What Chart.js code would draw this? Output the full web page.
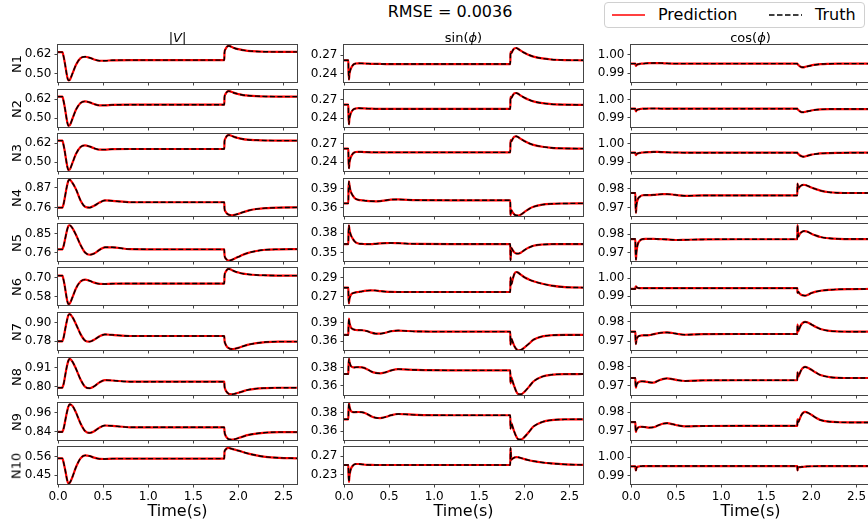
<!DOCTYPE html>
<html>
<head>
<meta charset="utf-8">
<script src="https://cdn.jsdelivr.net/npm/chart.js@4.4.0/dist/chart.umd.min.js"></script>
<style>
  body { margin: 0; width: 868px; height: 520px; overflow: hidden; background: #fff; position: relative; font-family: "DejaVu Sans", sans-serif; color: #000; }
  canvas { position: absolute; }
  .txt { position: absolute; white-space: nowrap; line-height: 1; transform: translate(-50%, -50%); }
  .rowlab { position: absolute; white-space: nowrap; line-height: 1; font-size: 13px; transform: translate(-50%, -50%) rotate(-90deg); }
  #legend { position: absolute; left: 604px; top: 2px; width: 261px; height: 26px; border: 1px solid #d0d0d0; border-radius: 4px; background: #fff; box-sizing: border-box; }
</style>
</head>
<body>
<div class="txt" style="left:450px; top:12px; font-size:16px;">RMSE = 0.0036</div>
<div id="legend">
  <svg width="261" height="26" style="position:absolute; left:0; top:0;">
    <line x1="7" y1="12" x2="40" y2="12" stroke="#ff0000" stroke-width="1.5"></line>
    <line x1="164" y1="12" x2="197" y2="12" stroke="#000" stroke-width="1.5" stroke-dasharray="5.5,2.5"></line>
  </svg>
  <div style="position:absolute; left:53px; top:4px; font-size:16px; line-height:16px;">Prediction</div>
  <div style="position:absolute; left:210px; top:4px; font-size:16px; line-height:16px;">Truth</div>
</div>

<script>
// shared time axis (s)
const time = [0, 0.048, 0.05, 0.055, 0.06, 0.07, 0.08, 0.1, 0.115, 0.13, 0.16, 0.2, 0.25, 0.3, 0.35, 0.4, 0.46, 0.52, 0.6, 0.8, 1.2, 1.6, 1.844, 1.846, 1.855, 1.87, 1.89, 1.91, 1.93, 1.96, 2.0, 2.05, 2.1, 2.2, 2.3, 2.45, 2.65];
const xTicks = [0, 0.5, 1.0, 1.5, 2.0, 2.5];
const nodes = ['N1', 'N2', 'N3', 'N4', 'N5', 'N6', 'N7', 'N8', 'N9', 'N10'];
const columns = ['|V|', 'sin(ϕ)', 'cos(ϕ)'];

// |V|
const v1 = [.634,.634,.632,.624,.612,.585,.553,.486,.458,.461,.500,.556,.596,.605,.599,.588,.580,.580,.583,.584,.584,.584,.584,.630,.650,.665,.672,.670,.665,.658,.652,.646,.642,.638,.636,.635,.635];
const v2 = [.637,.637,.635,.627,.614,.586,.553,.483,.453,.456,.497,.555,.597,.607,.601,.590,.582,.582,.585,.586,.586,.586,.586,.632,.651,.665,.672,.670,.666,.659,.653,.647,.644,.640,.638,.637,.637];
const v3 = [.637,.637,.635,.627,.614,.586,.552,.482,.452,.455,.496,.554,.597,.607,.600,.589,.580,.580,.583,.584,.584,.584,.584,.631,.650,.665,.672,.671,.666,.659,.653,.647,.643,.640,.638,.637,.637];
const v4 = [.760,.760,.762,.768,.776,.800,.828,.882,.910,.916,.898,.862,.800,.765,.760,.770,.788,.800,.798,.790,.790,.790,.790,.755,.740,.728,.721,.718,.717,.719,.725,.734,.742,.752,.757,.760,.761];
const v5 = [.776,.776,.778,.783,.789,.807,.828,.868,.888,.892,.878,.845,.797,.761,.750,.756,.774,.786,.786,.777,.776,.776,.776,.750,.735,.727,.722,.723,.726,.732,.740,.750,.758,.768,.774,.776,.777];
const v6 = [.715,.715,.713,.705,.692,.664,.630,.560,.532,.535,.575,.634,.677,.689,.682,.670,.662,.661,.663,.664,.664,.664,.664,.712,.735,.750,.758,.756,.750,.742,.735,.728,.724,.719,.717,.715,.715];
const v7 = [.780,.780,.783,.790,.799,.826,.859,.916,.948,.955,.935,.890,.826,.785,.778,.790,.812,.824,.821,.814,.814,.814,.814,.788,.765,.748,.737,.731,.730,.732,.738,.748,.757,.768,.775,.778,.778];
const v8 = [.794,.794,.797,.803,.811,.835,.866,.921,.950,.961,.945,.903,.842,.800,.791,.802,.825,.838,.836,.829,.829,.829,.829,.805,.785,.770,.760,.757,.756,.759,.765,.773,.781,.789,.792,.794,.794];
const v9 = [.840,.840,.843,.849,.857,.880,.910,.965,.998,1.012,1.002,.960,.893,.846,.834,.844,.867,.880,.878,.869,.869,.869,.869,.845,.822,.806,.796,.793,.792,.795,.802,.811,.820,.830,.836,.839,.839];
const v10 = [.552,.552,.550,.543,.532,.508,.482,.425,.402,.405,.440,.500,.552,.570,.566,.556,.549,.548,.550,.550,.550,.550,.550,.590,.603,.611,.614,.612,.609,.604,.598,.590,.582,.570,.561,.555,.552];

// sin(phi)
const s1 = [.262,.262,.246,.231,.2395,.246,.250,.2545,.2562,.2568,.2572,.2570,.2567,.2564,.2562,.2561,.2560,.2560,.2560,.2560,.2560,.2560,.2560,.2755,.2735,.2775,.2812,.2818,.2805,.2775,.2740,.2705,.2680,.2650,.2633,.2623,.2620];
const s2 = [.262,.262,.2455,.2304,.239,.2455,.2495,.2538,.2552,.2558,.2562,.2560,.2557,.2554,.2552,.2551,.2550,.2550,.2550,.2550,.2550,.2550,.2550,.2745,.2725,.2765,.2802,.2807,.2795,.2765,.2732,.2698,.2672,.2643,.2627,.2619,.2616];
const s3 = [.262,.262,.2455,.2304,.2392,.2458,.2498,.2543,.2558,.2565,.2568,.2566,.2563,.2561,.2560,.2560,.2560,.2560,.2560,.2560,.2560,.2560,.2560,.2755,.2735,.2775,.2812,.2818,.2806,.2776,.2742,.2706,.2680,.2650,.2633,.2623,.2620];
const s4 = [.3668,.3668,.388,.4016,.396,.388,.3835,.3785,.3755,.3738,.3722,.3716,.3708,.3702,.3700,.3703,.3715,.3728,.3730,.3718,.3716,.3716,.3716,.3480,.3560,.3525,.3490,.3478,.3476,.3490,.3530,.3578,.3613,.3648,.3661,.3666,.3668];
const s5 = [.3634,.3634,.380,.3924,.386,.380,.376,.371,.368,.366,.3642,.3637,.3632,.3633,.3638,.3643,.3648,.3650,.3647,.3636,.3634,.3634,.3634,.3380,.3575,.3540,.3502,.3487,.3485,.3500,.3540,.3580,.3608,.3627,.3633,.3634,.3634];
const s6 = [.2796,.2796,.2700,.2629,.2675,.2705,.2725,.2738,.2743,.2746,.2750,.2757,.2764,.2768,.2766,.2760,.2754,.2751,.2750,.2750,.2750,.2750,.2750,.2907,.2830,.2885,.2945,.2964,.2958,.2935,.2908,.2885,.2866,.2838,.2818,.2802,.2797];
const s7 = [.3702,.3702,.384,.3964,.390,.385,.3815,.3795,.3787,.3782,.3780,.3778,.3765,.3740,.3724,.3722,.3738,.3762,.3773,.3758,.3755,.3755,.3755,.3546,.3643,.3590,.3520,.3475,.3456,.3460,.3500,.3560,.3625,.3680,.3697,.3702,.3702];
const s8 = [.3733,.3733,.382,.3900,.3870,.3835,.3818,.3808,.3806,.3808,.3810,.3807,.3790,.3762,.3745,.3740,.3752,.3772,.3787,.3778,.3774,.3774,.3774,.3630,.3696,.3650,.3590,.3540,.3512,.3508,.3535,.3590,.3650,.3705,.3725,.3732,.3733];
const s9 = [.3731,.3731,.382,.3906,.3872,.3836,.3818,.3810,.3808,.3810,.3811,.3808,.3792,.3765,.3748,.3744,.3756,.3775,.3789,.3779,.3775,.3775,.3775,.3629,.3690,.3648,.3590,.3542,.3514,.3510,.3537,.3592,.3652,.3702,.3722,.3730,.3731];
const s10 = [.2511,.2511,.232,.2140,.2260,.2380,.2445,.2500,.2525,.2533,.2533,.2525,.2515,.2512,.2511,.2511,.2511,.2511,.2511,.2511,.2511,.2511,.2511,.2882,.2627,.2650,.2675,.2685,.2680,.2665,.2640,.2615,.2595,.2565,.2545,.2525,.2513];

// cos(phi)
const c1 = [.9952,.9952,.9945,.9939,.9943,.9947,.9949,.9951,.9952,.9952,.9953,.9954,.9955,.9955,.9954,.9953,.9952,.9952,.9952,.9952,.9952,.9952,.9952,.9950,.9945,.9938,.9933,.9932,.9934,.9938,.9942,.9946,.9949,.9951,.9952,.9952,.9952];
const c2 = [.9950,.9950,.9942,.9935,.9940,.9944,.9946,.9948,.9949,.9950,.9950,.9951,.9951,.9951,.9950,.9950,.9950,.9950,.9950,.9950,.9950,.9950,.9950,.9948,.9943,.9936,.9931,.9930,.9932,.9936,.9940,.9944,.9946,.9948,.9948,.9948,.9948];
const c3 = [.9951,.9951,.9944,.9938,.9942,.9946,.9948,.9950,.9951,.9952,.9953,.9954,.9955,.9955,.9954,.9953,.9952,.9952,.9951,.9951,.9951,.9951,.9951,.9949,.9944,.9937,.9932,.9929,.9930,.9935,.9940,.9944,.9947,.9949,.9950,.9951,.9951];
const c4 = [.9777,.9777,.9720,.9671,.9710,.9735,.9748,.9758,.9763,.9765,.9766,.9766,.9767,.9769,.9771,.9771,.9769,.9765,.9762,.9764,.9764,.9764,.9764,.9827,.9800,.9810,.9818,.9821,.9820,.9815,.9806,.9798,.9790,.9781,.9778,.9777,.9777];
const c5 = [.9773,.9773,.9715,.9662,.9700,.9735,.9752,.9765,.9771,.9773,.9774,.9774,.9774,.9773,.9772,.9771,.9769,.9768,.9769,.9771,.9772,.9772,.9772,.9848,.9786,.9800,.9810,.9815,.9816,.9812,.9802,.9792,.9784,.9777,.9774,.9773,.9773];
const c6 = [.9941,.9941,.9950,.9956,.9952,.9948,.9946,.9945,.9945,.9945,.9945,.9945,.9945,.9945,.9945,.9945,.9945,.9945,.9945,.9945,.9945,.9945,.9945,.9919,.9925,.9915,.9908,.9905,.9904,.9908,.9918,.9926,.9931,.9936,.9939,.9940,.9941];
const c7 = [.9749,.9749,.9715,.9684,.9705,.9718,.9724,.9728,.9729,.9730,.9730,.9731,.9736,.9741,.9744,.9745,.9742,.9737,.9733,.9736,.9737,.9737,.9737,.9786,.9752,.9770,.9788,.9797,.9800,.9797,.9787,.9774,.9763,.9753,.9750,.9749,.9749];
const c8 = [.9741,.9741,.9712,.9689,.9702,.9712,.9718,.9722,.9723,.9723,.9722,.9718,.9716,.9726,.9735,.9739,.9735,.9729,.9725,.9728,.9729,.9729,.9729,.9771,.9748,.9765,.9785,.9796,.9800,.9796,.9785,.9770,.9757,.9746,.9742,.9741,.9741];
const c9 = [.9748,.9748,.9718,.9695,.9706,.9714,.9719,.9722,.9723,.9722,.9721,.9718,.9720,.9730,.9739,.9742,.9737,.9730,.9725,.9727,.9728,.9728,.9728,.9762,.9748,.9765,.9786,.9798,.9802,.9798,.9787,.9771,.9759,.9750,.9747,.9746,.9746];
const c10 = [.9949,.9949,.9937,.9927,.9940,.9946,.9948,.9950,.9950,.9951,.9951,.9951,.9951,.9951,.9951,.9951,.9951,.9951,.9951,.9951,.9951,.9951,.9951,.9927,.9944,.9945,.9946,.9947,.9948,.9949,.9950,.9950,.9951,.9951,.9951,.9951,.9951];

// y tick labels per subplot
const vTicks = [[0.50, 0.62], [0.50, 0.62], [0.50, 0.62], [0.76, 0.87], [0.76, 0.85], [0.58, 0.70], [0.78, 0.90], [0.80, 0.91], [0.84, 0.96], [0.45, 0.56]];
const sTicks = [[0.24, 0.27], [0.24, 0.27], [0.24, 0.27], [0.36, 0.39], [0.35, 0.38], [0.27, 0.29], [0.36, 0.39], [0.36, 0.38], [0.36, 0.38], [0.23, 0.27]];
const cTicks = [[0.99, 1.00], [0.99, 1.00], [0.99, 1.00], [0.97, 0.98], [0.97, 0.98], [0.99, 1.00], [0.97, 0.98], [0.97, 0.98], [0.97, 0.98], [0.99, 1.00]];

// y limits per subplot
const vLim = [[0.448, 0.678], [0.445, 0.679], [0.445, 0.679], [0.713, 0.920], [0.720, 0.898], [0.526, 0.764], [0.724, 0.962], [0.752, 0.966], [0.790, 1.020], [0.398, 0.620]];
const sLim = [[0.2271, 0.2866], [0.226, 0.2855], [0.226, 0.2855], [0.3468, 0.4053], [0.3371, 0.3945], [0.2611, 0.3007], [0.346, 0.4055], [0.350, 0.3911], [0.3505, 0.3909], [0.2096, 0.2904]];
const cLim = [[0.9853, 1.0052], [0.9848, 1.0054], [0.9851, 1.0053], [0.9654, 0.9852], [0.9655, 0.9854], [0.9852, 1.0057], [0.9653, 0.9847], [0.965, 0.9848], [0.9652, 0.985], [0.9853, 1.0055]];

const vAll = [v1, v2, v3, v4, v5, v6, v7, v8, v9, v10];
const sAll = [s1, s2, s3, s4, s5, s6, s7, s8, s9, s10];
const cAll = [c1, c2, c3, c4, c5, c6, c7, c8, c9, c10];

// layout (px)
const colLeft = [58, 344, 631];
const rowTop = [45, 90, 134, 179, 224, 268, 313, 358, 403, 447];
const boxW = 239, boxH = 37;
const padL = 50, padT = 4, padR = 6;
const font = { family: 'DejaVu Sans', size: 12 };

const frame = {
    id: 'frame',
    afterDatasetsDraw(chart) {
        const a = chart.chartArea;
        const ctx = chart.ctx;
        ctx.save();
        ctx.strokeStyle = '#444';
        ctx.lineWidth = 1;
        ctx.strokeRect(Math.round(a.left) - 0.5, Math.round(a.top) - 0.5, Math.round(a.right - a.left) + 1, Math.round(a.bottom - a.top) + 1);
        ctx.restore();
    }
};

function addPlot(col, row, values, lim, ticks) {
    const last = row === nodes.length - 1;
    const xh = last ? 22 : 5;
    const c = document.createElement('canvas');
    c.width = padL + boxW + padR;
    c.height = padT + boxH + xh;
    c.style.left = (colLeft[col] - padL) + 'px';
    c.style.top = (rowTop[row] - padT) + 'px';
    document.body.appendChild(c);

    const pts = time.map((t, k) => ({ x: t, y: values[k] }));

    new Chart(c, {
        type: 'line',
        data: {
            datasets: [
                { label: 'Truth', data: pts, borderColor: '#000', borderWidth: 1.4, borderDash: [5, 2.5], order: 1 },
                { label: 'Prediction', data: pts, borderColor: '#ff0000', borderWidth: 2.2, order: 2 }
            ]
        },
        options: {
            responsive: false,
            animation: false,
            devicePixelRatio: 1,
            layout: { padding: { top: padT, right: padR, left: 0, bottom: 0 } },
            elements: { point: { radius: 0 }, line: { cubicInterpolationMode: 'monotone', fill: false } },
            plugins: { legend: { display: false }, tooltip: { enabled: false } },
            scales: {
                x: {
                    type: 'linear', min: 0, max: 2.65,
                    afterBuildTicks: s => { s.ticks = xTicks.map(v => ({ value: v })); },
                    afterFit: s => { s.height = xh; s.paddingLeft = 0; s.paddingRight = 0; },
                    grid: { drawOnChartArea: false, tickLength: 3.5, color: '#444' },
                    border: { display: false },
                    ticks: { display: last, autoSkip: false, maxRotation: 0, padding: 2, color: '#000', font: font, callback: v => Number(v).toFixed(1) }
                },
                y: {
                    min: lim[0], max: lim[1],
                    afterBuildTicks: s => { s.ticks = ticks.map(v => ({ value: v })); },
                    afterFit: s => { s.width = padL; s.paddingTop = 0; s.paddingBottom = 0; },
                    grid: { drawOnChartArea: false, tickLength: 3.5, color: '#444' },
                    border: { display: false },
                    ticks: { padding: 3, color: '#000', font: font, callback: v => Number(v).toFixed(2) }
                }
            }
        },
        plugins: [frame]
    });
}

for (let r = 0; r < nodes.length; r++) {
    addPlot(0, r, vAll[r], vLim[r], vTicks[r]);
    addPlot(1, r, sAll[r], sLim[r], sTicks[r]);
    addPlot(2, r, cAll[r], cLim[r], cTicks[r]);

    const lab = document.createElement('div');
    lab.className = 'rowlab';
    lab.textContent = nodes[r];
    lab.style.left = '16px';
    lab.style.top = (rowTop[r] + boxH / 2) + 'px';
    document.body.appendChild(lab);
}

// column titles and x labels
const titleHtml = ['|<i>V</i>|', 'sin(<i>ϕ</i>)', 'cos(<i>ϕ</i>)'];
for (let j = 0; j < columns.length; j++) {
    const cx = colLeft[j] + boxW / 2;
    const t = document.createElement('div');
    t.className = 'txt';
    t.style.left = cx + 'px';
    t.style.top = '37px';
    t.style.fontSize = '13px';
    t.innerHTML = titleHtml[j];
    document.body.appendChild(t);

    const xl = document.createElement('div');
    xl.className = 'txt';
    xl.style.left = cx + 'px';
    xl.style.top = '511px';
    xl.style.fontSize = '16px';
    xl.textContent = 'Time(s)';
    document.body.appendChild(xl);
}
</script>
</body>
</html>
